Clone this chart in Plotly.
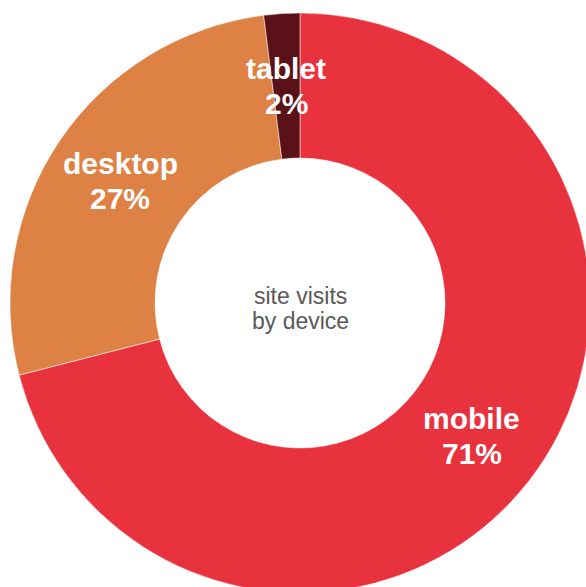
import math
import plotly.graph_objects as go

# Site visits by device type (percent)
devices = ["mobile", "desktop", "tablet"]
shares = [71, 27, 2]
colors = ["#E8323E", "#DD8244", "#5A1218"]
center_lines = ["site visits", "by device"]

W, H = 600, 606
CX, CY, R = 300, 303, 290      # pie centre and outer radius in pixels
HOLE = 0.5
FONT = "Liberation Sans, Arial, Helvetica, sans-serif"
LABEL_SIZE = 30
LABEL_GAP = 35                  # baseline distance between name and percent

fig = go.Figure(
    go.Pie(
        labels=devices,
        values=shares,
        sort=False,
        direction="clockwise",
        rotation=0,
        hole=HOLE,
        marker=dict(colors=colors, line=dict(color="white", width=0.5)),
        textinfo="none",
        domain=dict(x=[(CX - R) / W, (CX + R) / W],
                    y=[1 - (CY + R) / H, 1 - (CY - R) / H]),
        hoverinfo="label+percent",
        showlegend=False,
    )
)

# Slice labels: name and percentage placed at the middle of each ring segment
total = sum(shares)
r_mid = R * (1 + HOLE) / 2
cum = 0
annotations = []
for name, val in zip(devices, shares):
    mid = (cum + val / 2) / total * 2 * math.pi
    cum += val
    px = CX + r_mid * math.sin(mid)
    py = CY - r_mid * math.cos(mid)
    for txt, shift in ((name, LABEL_GAP / 2), (f"{val}%", -LABEL_GAP / 2)):
        annotations.append(dict(
            x=px / W, y=1 - py / H, xref="paper", yref="paper",
            text=f"<b>{txt}</b>", showarrow=False,
            xanchor="center", yanchor="middle", yshift=shift,
            font=dict(family=FONT, size=LABEL_SIZE, color="white"),
        ))

# Caption in the hole
for txt, shift in zip(center_lines, (7, -18)):
    annotations.append(dict(
        x=CX / W, y=1 - CY / H, xref="paper", yref="paper",
        text=txt, showarrow=False,
        xanchor="center", yanchor="middle", yshift=shift,
        font=dict(family=FONT, size=23, color="#595959"),
    ))

fig.update_layout(
    width=W,
    height=H,
    margin=dict(l=0, r=0, t=0, b=0),
    paper_bgcolor="white",
    plot_bgcolor="white",
    annotations=annotations,
)

fig.write_html("out.html")
